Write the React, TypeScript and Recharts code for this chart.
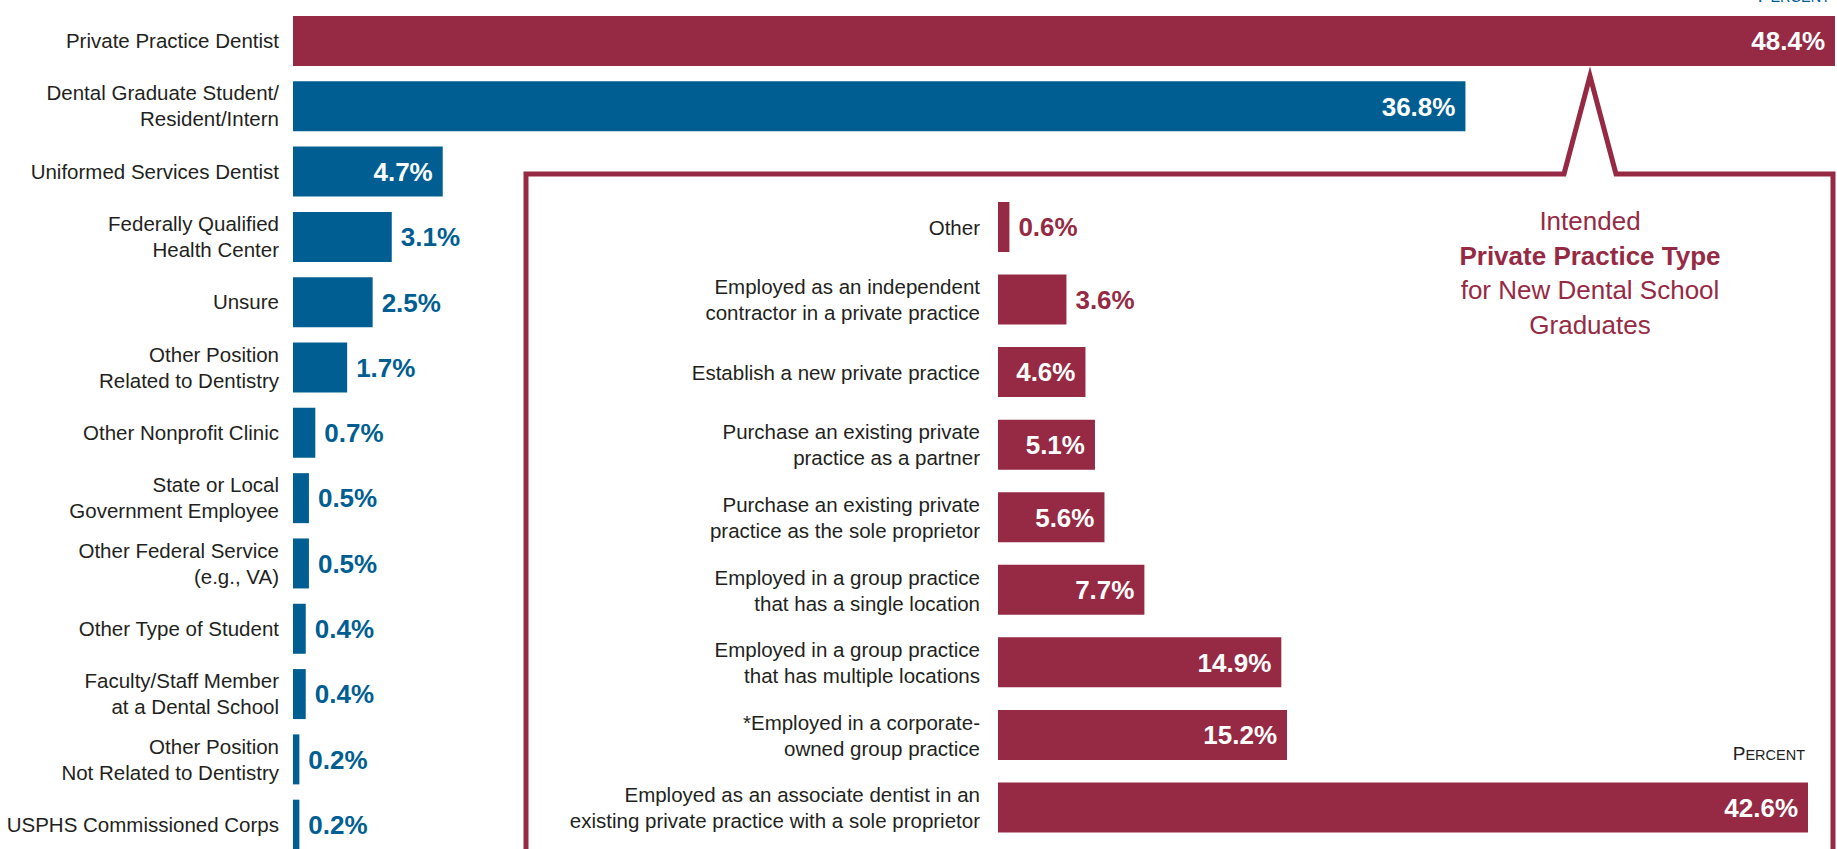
import { Bar, BarChart, Cell, LabelList, XAxis, YAxis } from 'recharts'

const MAROON = '#962a44'
const BLUE = '#005e93'
const INK = '#231f20'
const FONT = "'Liberation Sans', Arial, sans-serif"

const activityLabels = [
  'Private Practice Dentist',
  'Dental Graduate Student/\nResident/Intern',
  'Uniformed Services Dentist',
  'Federally Qualified\nHealth Center',
  'Unsure',
  'Other Position\nRelated to Dentistry',
  'Other Nonprofit Clinic',
  'State or Local\nGovernment Employee',
  'Other Federal Service\n(e.g., VA)',
  'Other Type of Student',
  'Faculty/Staff Member\nat a Dental School',
  'Other Position\nNot Related to Dentistry',
  'USPHS Commissioned Corps',
]
const activityValues = [48.4, 36.8, 4.7, 3.1, 2.5, 1.7, 0.7, 0.5, 0.5, 0.4, 0.4, 0.2, 0.2]

const practiceLabels = [
  'Other',
  'Employed as an independent\ncontractor in a private practice',
  'Establish a new private practice',
  'Purchase an existing private\npractice as a partner',
  'Purchase an existing private\npractice as the sole proprietor',
  'Employed in a group practice\nthat has a single location',
  'Employed in a group practice\nthat has multiple locations',
  '*Employed in a corporate-\nowned group practice',
  'Employed as an associate dentist in an\nexisting private practice with a sole proprietor',
]
const practiceValues = [0.6, 3.6, 4.6, 5.1, 5.6, 7.7, 14.9, 15.2, 42.6]

const activityData = activityLabels.map((name, i) => ({ name, value: activityValues[i] }))
const practiceData = practiceLabels.map((name, i) => ({ name, value: practiceValues[i] }))

function CategoryTick({ x, y, payload }: any) {
  const lines = String(payload.value).split('\n')
  const first = -((lines.length - 1) * 26) / 2 + 7.5
  return (
    <text x={x} y={y} textAnchor="end" fontFamily={FONT} fontSize={20.5} fill={INK}>
      {lines.map((line, i) => (
        <tspan key={i} x={x} y={y + first + i * 26}>
          {line}
        </tspan>
      ))}
    </text>
  )
}

// big bars get a white label inside, small ones a coloured one after the bar
function valueLabel(insideFrom: number, color: string) {
  return (props: any) => {
    const x = Number(props.x)
    const w = Number(props.width)
    const v = Number(props.value)
    const inside = v >= insideFrom
    const cy = Number(props.y) + Number(props.height) / 2 + 9.3
    return (
      <text
        x={inside ? x + w - 10 : x + w + 9}
        y={cy}
        textAnchor={inside ? 'end' : 'start'}
        fill={inside ? '#fff' : color}
        fontFamily={FONT}
        fontWeight={700}
        fontSize={26}
      >
        {v.toFixed(1)}%
      </text>
    )
  }
}

function SmallCaps({ x, y, text, color }: { x: number; y: number; text: string; color: string }) {
  return (
    <text x={x} y={y} textAnchor="end" fontFamily={FONT} fill={color}>
      <tspan fontSize={19}>{text[0]}</tspan>
      <tspan fontSize={14.5}>{text.slice(1)}</tspan>
    </text>
  )
}

export default function App() {
  return (
    <div
      style={{
        position: 'absolute',
        left: 0,
        top: 0,
        width: 1837,
        height: 849,
        overflow: 'hidden',
        background: '#fff',
      }}
    >
      <div style={{ position: 'absolute', left: 0, top: 0 }}>
        <BarChart
          width={1837}
          height={857}
          data={activityData}
          layout="vertical"
          margin={{ top: 8, right: 2, bottom: 0, left: 0 }}
        >
          <XAxis type="number" domain={[0, 48.4]} hide />
          <YAxis
            type="category"
            dataKey="name"
            width={293}
            axisLine={false}
            tickLine={false}
            tickSize={0}
            tickMargin={14}
            interval={0}
            tick={<CategoryTick />}
          />
          <Bar dataKey="value" barSize={50} isAnimationActive={false}>
            {activityData.map((_, i) => (
              <Cell key={i} fill={i === 0 ? MAROON : BLUE} />
            ))}
            <LabelList dataKey="value" content={valueLabel(4, BLUE)} />
          </Bar>
        </BarChart>
      </div>

      <div style={{ position: 'absolute', left: 540, top: 191 }}>
        <BarChart
          width={1268}
          height={653}
          data={practiceData}
          layout="vertical"
          margin={{ top: 0, right: 0, bottom: 0, left: 0 }}
        >
          <XAxis type="number" domain={[0, 42.6]} hide />
          <YAxis
            type="category"
            dataKey="name"
            width={458}
            axisLine={false}
            tickLine={false}
            tickSize={0}
            tickMargin={18}
            interval={0}
            tick={<CategoryTick />}
          />
          <Bar dataKey="value" fill={MAROON} barSize={50} isAnimationActive={false}>
            <LabelList dataKey="value" content={valueLabel(4, MAROON)} />
          </Bar>
        </BarChart>
      </div>

      <svg
        width={1837}
        height={849}
        style={{ position: 'absolute', left: 0, top: 0, pointerEvents: 'none' }}
      >
        <path
          d="M 526 900 L 526 174 L 1564 174 L 1590 76 L 1616 174 L 1833 174 L 1833 900"
          fill="none"
          stroke={MAROON}
          strokeWidth={5}
          strokeMiterlimit={10}
        />
        <g fontFamily={FONT} fill={MAROON} textAnchor="middle" fontSize={26}>
          <text x={1590} y={230}>Intended</text>
          <text x={1590} y={264.5} fontWeight={700}>
            Private Practice Type
          </text>
          <text x={1590} y={299}>for New Dental School</text>
          <text x={1590} y={333.5}>Graduates</text>
        </g>
        <SmallCaps x={1830} y={2} text="PERCENT" color={BLUE} />
        <SmallCaps x={1805} y={760} text="PERCENT" color={INK} />
      </svg>
    </div>
  )
}
